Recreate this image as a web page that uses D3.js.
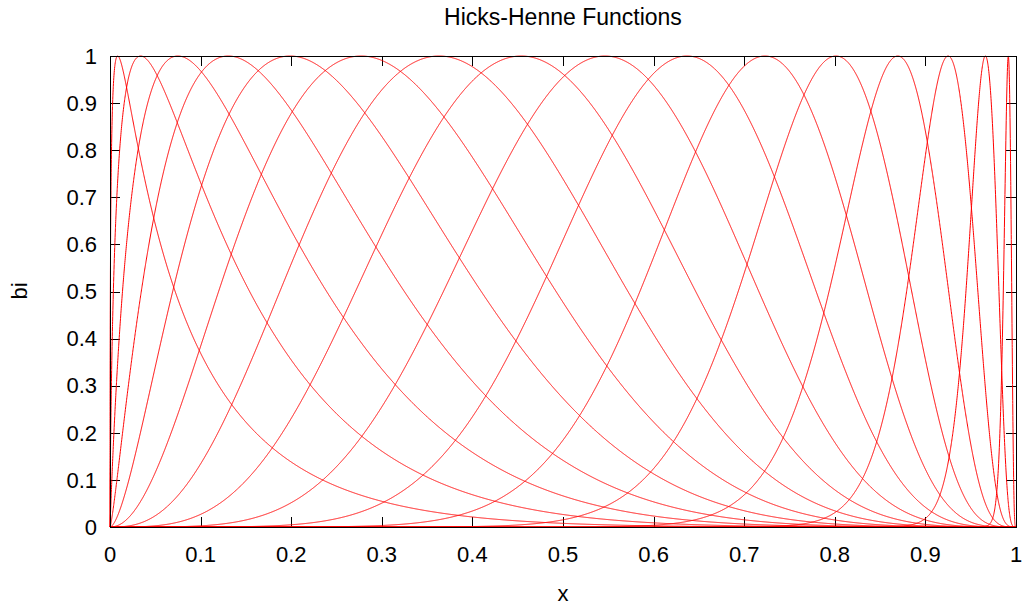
<!DOCTYPE html>
<html>
<head>
<meta charset="utf-8">
<script src="https://cdn.jsdelivr.net/npm/d3@7"></script>
<style>
  html, body { margin: 0; padding: 0; background: #fff; }
  svg { display: block; }
  text { font-family: "Liberation Sans", Arial, sans-serif; fill: #000; }
</style>
</head>
<body>
<svg id="chart" width="1025" height="605"></svg>
<script>
// Peak locations h_i of the bump functions
const peaks = [0.0085, 0.0338, 0.0749, 0.1305, 0.1987, 0.2771, 0.3632, 0.4538,
               0.5462, 0.6368, 0.7229, 0.8013, 0.8695, 0.9251, 0.9662, 0.9915];
// Width exponent t of sin^t
const widthExponent = [4];
const xTicks = [0, 0.1, 0.2, 0.3, 0.4, 0.5, 0.6, 0.7, 0.8, 0.9, 1];
const yTicks = [0, 0.1, 0.2, 0.3, 0.4, 0.5, 0.6, 0.7, 0.8, 0.9, 1];
const xTickLabels = ["0", "0.1", "0.2", "0.3", "0.4", "0.5", "0.6", "0.7", "0.8", "0.9", "1"];
const yTickLabels = ["0", "0.1", "0.2", "0.3", "0.4", "0.5", "0.6", "0.7", "0.8", "0.9", "1"];

(function () {
  const plotLeft = 110, plotRight = 1016, plotTop = 56, plotBottom = 527;
  const tickFont = 22, titleFont = 23;

  const svg = d3.select("#chart");
  const x = d3.scaleLinear().domain([0, 1]).range([plotLeft, plotRight]);
  const y = d3.scaleLinear().domain([0, 1]).range([plotBottom, plotTop]);

  // Hicks-Henne bump: b(x) = sin^t(pi * x^m), m = ln(0.5)/ln(h)
  function hicksHenne(h, t) {
    const m = Math.log(0.5) / Math.log(h);
    return v => Math.pow(Math.sin(Math.PI * Math.pow(v, m)), t);
  }

  // Sampling grid: uniform plus dense log-spaced points near both ends
  const grid = [];
  for (let k = -9; k <= -2; k += 0.02) grid.push(Math.pow(10, k));
  for (let v = 0; v <= 1; v += 0.0002) grid.push(v);
  for (let k = -9; k <= -2; k += 0.02) grid.push(1 - Math.pow(10, k));
  grid.push(0, 1);
  grid.sort((a, b) => a - b);

  // Ticks (inward, mirrored on top/right)
  const tickLen = 10;
  const axes = svg.append("g").attr("stroke", "#000").attr("stroke-width", 1);
  xTicks.forEach(v => {
    const px = Math.round(x(v)) + 0.5;
    axes.append("line").attr("x1", px).attr("x2", px).attr("y1", plotBottom).attr("y2", plotBottom - tickLen);
    axes.append("line").attr("x1", px).attr("x2", px).attr("y1", plotTop).attr("y2", plotTop + tickLen);
  });
  yTicks.forEach(v => {
    const py = Math.round(y(v)) + 0.5;
    axes.append("line").attr("x1", plotLeft).attr("x2", plotLeft + tickLen).attr("y1", py).attr("y2", py);
    axes.append("line").attr("x1", plotRight).attr("x2", plotRight - tickLen).attr("y1", py).attr("y2", py);
  });

  // Curves
  const line = d3.line().x(d => x(d[0])).y(d => y(d[1]));
  const curves = svg.append("g");
  peaks.forEach(h => {
    const f = hicksHenne(h, widthExponent[0]);
    curves.append("path")
      .attr("d", line(grid.map(v => [v, f(v)])))
      .attr("fill", "none")
      .attr("stroke", "#ff0000")
      .attr("stroke-width", 1);
  });

  // Border
  svg.append("rect")
    .attr("x", plotLeft + 0.5).attr("y", plotTop + 0.5)
    .attr("width", plotRight - plotLeft).attr("height", plotBottom - plotTop)
    .attr("fill", "none").attr("stroke", "#000").attr("stroke-width", 1);

  // Tick labels
  svg.append("g").selectAll("text").data(xTicks).join("text")
    .attr("x", d => x(d)).attr("y", 562)
    .attr("text-anchor", "middle").attr("font-size", tickFont)
    .text((d, i) => xTickLabels[i]);
  svg.append("g").selectAll("text").data(yTicks).join("text")
    .attr("x", 97).attr("y", d => y(d))
    .attr("dy", "0.35em")
    .attr("text-anchor", "end").attr("font-size", tickFont)
    .text((d, i) => yTickLabels[i]);

  // Titles
  svg.append("text").attr("x", 563).attr("y", 25)
    .attr("text-anchor", "middle").attr("font-size", titleFont)
    .text("Hicks-Henne Functions");
  svg.append("text").attr("x", 563).attr("y", 601)
    .attr("text-anchor", "middle").attr("font-size", tickFont)
    .text("x");
  svg.append("text")
    .attr("transform", "translate(27,291) rotate(-90)")
    .attr("text-anchor", "middle").attr("font-size", tickFont)
    .text("bi");
})();
</script>
</body>
</html>
